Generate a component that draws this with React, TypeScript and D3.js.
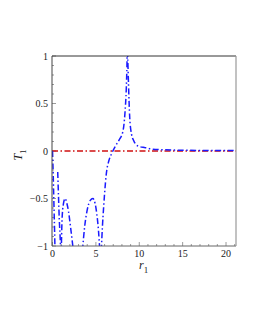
import React, { useEffect, useRef } from 'react';
import * as d3 from 'd3';

// branch segments of T1(r1)
const branchA: [number, number][] = [
  [0.0, 0.0], [0.08, -0.25], [0.16, -0.55], [0.24, -0.85], [0.3, -1.1]
];
const branchB: [number, number][] = [
  [0.6, -0.22], [0.68, -0.45], [0.78, -0.72], [0.9, -0.95], [0.96, -1.1]
];
const arch1: [number, number][] = [
  [1.0, -1.1], [1.1, -0.72], [1.25, -0.56], [1.45, -0.5], [1.65, -0.55],
  [1.85, -0.64], [2.05, -0.78], [2.25, -0.93], [2.4, -1.05]
];
const arch2: [number, number][] = [
  [3.45, -1.05], [3.7, -0.8], [4.0, -0.62], [4.35, -0.52], [4.65, -0.5],
  [4.9, -0.55], [5.1, -0.66], [5.3, -0.84], [5.45, -1.05]
];
const rise: [number, number][] = [
  [5.62, -1.05], [5.75, -0.8], [5.9, -0.58], [6.0, -0.45], [6.2, -0.24],
  [6.5, -0.1], [6.8, -0.03], [7.3, 0.06], [7.7, 0.12], [8.1, 0.2],
  [8.35, 0.4], [8.5, 0.65], [8.58, 0.9], [8.62, 1.1], [8.68, 0.95],
  [8.76, 0.7], [8.9, 0.35], [9.1, 0.18], [9.35, 0.11], [9.9, 0.05],
  [10.7, 0.035], [11.5, 0.02], [13, 0.012], [15, 0.008], [18, 0.005], [21.2, 0.004]
];
const blueBranches = [branchA, branchB, arch1, arch2, rise];

const xTicks = [0, 5, 10, 15, 20];
const yTicks = [-1, -0.5, 0, 0.5, 1];

const App: React.FC = () => {
  const svgRef = useRef<SVGSVGElement>(null);

  useEffect(() => {
    if (!svgRef.current) return;
    const svg = d3.select(svgRef.current);
    svg.selectAll('*').remove();

    const left = 52, right = 236, top = 56, bottom = 246;
    const x = d3.scaleLinear().domain([-0.06, 21.15]).range([left, right]);
    const y = d3.scaleLinear().domain([-1, 1]).range([bottom, top]);

    const font = '"Liberation Serif", "Times New Roman", serif';

    svg.append('defs').append('clipPath').attr('id', 'plot-clip')
      .append('rect')
      .attr('x', left).attr('y', top)
      .attr('width', right - left).attr('height', bottom - top);

    // 刻度
    const g = svg.append('g');
    d3.range(0, 22, 1).forEach(v => {
      const major = v % 5 === 0;
      g.append('line')
        .attr('x1', x(v)).attr('x2', x(v))
        .attr('y1', bottom).attr('y2', bottom - (major ? 4 : 2))
        .attr('stroke', '#555').attr('stroke-width', 0.6);
    });
    d3.range(-1, 1.001, 0.1).forEach(v => {
      const major = Math.abs(v * 2 - Math.round(v * 2)) < 1e-6;
      g.append('line')
        .attr('x1', left).attr('x2', left + (major ? 4 : 2))
        .attr('y1', y(v)).attr('y2', y(v))
        .attr('stroke', '#555').attr('stroke-width', 0.6);
    });

    xTicks.forEach(v => {
      g.append('text')
        .attr('x', x(v)).attr('y', bottom + 11)
        .attr('text-anchor', 'middle')
        .attr('font-family', font).attr('font-size', 10)
        .attr('fill', '#222')
        .text(String(v));
    });
    yTicks.forEach(v => {
      g.append('text')
        .attr('x', left - 4).attr('y', y(v) + 3.5)
        .attr('text-anchor', 'end')
        .attr('font-family', font).attr('font-size', 10)
        .attr('fill', '#222')
        .text(v < 0 ? '\u2212' + String(-v) : String(v));
    });

    // 曲线
    const line = d3.line<[number, number]>()
      .x(d => x(d[0]))
      .y(d => y(d[1]))
      .curve(d3.curveMonotoneX);

    const plot = svg.append('g').attr('clip-path', 'url(#plot-clip)');

    plot.append('line')
      .attr('x1', left).attr('x2', right)
      .attr('y1', y(0)).attr('y2', y(0))
      .attr('stroke', '#d01010').attr('stroke-width', 1.3)
      .attr('stroke-dasharray', '6,2.5,1.5,2.5');

    blueBranches.forEach(seg => {
      plot.append('path')
        .attr('d', line(seg) ?? '')
        .attr('fill', 'none')
        .attr('stroke', '#1a1aff')
        .attr('stroke-width', 1.5)
        .attr('stroke-dasharray', '6,2.5,1.5,2.5');
    });

    // 边框
    const frame = svg.append('g');
    frame.append('line').attr('x1', left).attr('x2', right).attr('y1', top).attr('y2', top)
      .attr('stroke', '#333').attr('stroke-width', 1);
    frame.append('line').attr('x1', left).attr('x2', left).attr('y1', top).attr('y2', bottom)
      .attr('stroke', '#444').attr('stroke-width', 1);
    frame.append('line').attr('x1', left).attr('x2', right).attr('y1', bottom).attr('y2', bottom)
      .attr('stroke', '#666').attr('stroke-width', 1);
    frame.append('line').attr('x1', right).attr('x2', right).attr('y1', top).attr('y2', bottom)
      .attr('stroke', '#999').attr('stroke-width', 1.2);

    // 轴标签
    const xl = svg.append('text')
      .attr('x', 139).attr('y', 269)
      .attr('font-family', font).attr('font-size', 12).attr('fill', '#222');
    xl.append('tspan').attr('font-style', 'italic').text('r');
    xl.append('tspan').attr('font-size', 9).attr('dy', 4).text('1');

    const yl = svg.append('text')
      .attr('transform', `translate(22, ${y(0) + 4}) rotate(-90)`)
      .attr('text-anchor', 'middle')
      .attr('font-family', font).attr('font-size', 12).attr('fill', '#222');
    yl.append('tspan').attr('font-style', 'italic').text('T');
    yl.append('tspan').attr('font-size', 9).attr('dy', 4).text('1');
  }, []);

  return (
    <svg
      ref={svgRef}
      width={255}
      height={330}
      style={{ position: 'absolute', left: 0, top: 0, background: '#fff' }}
    />
  );
};

export default App;
